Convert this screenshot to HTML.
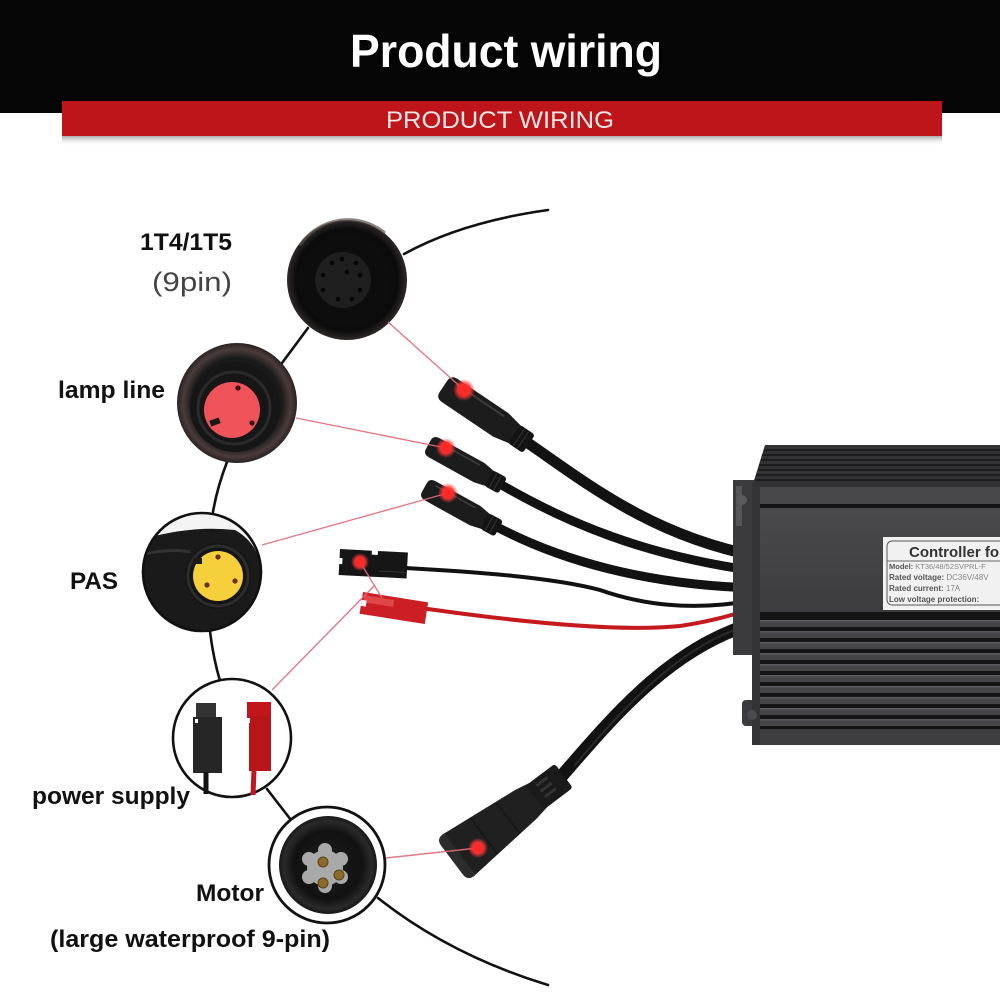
<!DOCTYPE html>
<html><head><meta charset="utf-8">
<style>html,body{margin:0;padding:0;background:#fff}svg{display:block}</style>
</head>
<body>
<svg width="1000" height="1000" viewBox="0 0 1000 1000" xmlns="http://www.w3.org/2000/svg" font-family="'Liberation Sans', Arial, sans-serif">
<defs>
  <linearGradient id="shadow" x1="0" y1="0" x2="0" y2="1">
    <stop offset="0" stop-color="#666" stop-opacity=".55"/>
    <stop offset="1" stop-color="#fff" stop-opacity="0"/>
  </linearGradient>
  <radialGradient id="dot">
    <stop offset="0" stop-color="#ff2424"/>
    <stop offset=".55" stop-color="#ff3030" stop-opacity=".95"/>
    <stop offset="1" stop-color="#ff4040" stop-opacity="0"/>
  </radialGradient>
  <radialGradient id="c1g" cx=".5" cy=".5" r=".5">
    <stop offset="0" stop-color="#151515"/>
    <stop offset=".85" stop-color="#0b0b0b"/>
    <stop offset="1" stop-color="#2e2828"/>
  </radialGradient>
  <radialGradient id="c2g" cx=".5" cy=".5" r=".5">
    <stop offset="0" stop-color="#1a1a1a"/>
    <stop offset=".75" stop-color="#1a1a1a"/>
    <stop offset=".9" stop-color="#4a3d3b"/>
    <stop offset="1" stop-color="#2a2222"/>
  </radialGradient>
  <radialGradient id="c5g" cx=".5" cy=".5" r=".5">
    <stop offset="0" stop-color="#1c1c1c"/>
    <stop offset=".7" stop-color="#121212"/>
    <stop offset=".9" stop-color="#2a2a2a"/>
    <stop offset="1" stop-color="#161616"/>
  </radialGradient>
  <linearGradient id="ctrlMid" x1="0" y1="0" x2="0" y2="1">
    <stop offset="0" stop-color="#4a4a4d"/>
    <stop offset="1" stop-color="#3c3c3f"/>
  </linearGradient>
  <clipPath id="cp3"><circle cx="202" cy="572" r="58.5"/></clipPath>
</defs>

<!-- Header -->
<rect x="0" y="0" width="1000" height="113" fill="#050505"/>
<text x="506" y="67" text-anchor="middle" font-size="46" font-weight="bold" fill="#ffffff" textLength="312" lengthAdjust="spacingAndGlyphs">Product wiring</text>
<rect x="62" y="136" width="880" height="10" fill="url(#shadow)"/>
<rect x="62" y="101" width="880" height="35" fill="#bd1519"/>
<text x="500" y="128" text-anchor="middle" font-size="24" fill="#f3e6e6" textLength="228" lengthAdjust="spacingAndGlyphs">PRODUCT WIRING</text>

<!-- Labels -->
<text x="140" y="250" font-size="24" font-weight="bold" fill="#111" textLength="92" lengthAdjust="spacingAndGlyphs">1T4/1T5</text>
<text x="152" y="291" font-size="27" fill="#444" textLength="80" lengthAdjust="spacingAndGlyphs">(9pin)</text>
<text x="58" y="398" font-size="24" font-weight="bold" fill="#111" textLength="107" lengthAdjust="spacingAndGlyphs">lamp line</text>
<text x="70" y="589" font-size="24" font-weight="bold" fill="#111" textLength="48" lengthAdjust="spacingAndGlyphs">PAS</text>
<text x="32" y="804" font-size="24" font-weight="bold" fill="#111" textLength="158" lengthAdjust="spacingAndGlyphs">power supply</text>
<text x="196" y="901" font-size="24" font-weight="bold" fill="#111" textLength="68" lengthAdjust="spacingAndGlyphs">Motor</text>
<text x="50" y="947" font-size="24" font-weight="bold" fill="#111" textLength="280" lengthAdjust="spacingAndGlyphs">(large waterproof 9-pin)</text>

<!-- Black arc connectors between circles -->
<g fill="none" stroke="#111" stroke-width="2.6" stroke-linecap="round">
  <path d="M404,254 Q462,222 548,210"/>
  <path d="M308,328 L282,363"/>
  <path d="M227,462 Q217,488 213,512"/>
  <path d="M210,631 Q213,657 220,681"/>
  <path d="M267,789 L291,820"/>
  <path d="M378,898 Q450,955 548,985"/>
</g>

<!-- Cables (under controller) -->
<g fill="none" stroke-linecap="round">
  <path d="M528,443 C585,482 650,535 756,556" stroke="#121212" stroke-width="11"/>
  <path d="M500,484 C565,522 645,556 756,571" stroke="#121212" stroke-width="9"/>
  <path d="M497,527 C560,560 645,585 756,588" stroke="#121212" stroke-width="9"/>
  <path d="M405,568 C480,572 555,578 600,590 C640,604 690,612 756,600" stroke="#111" stroke-width="4"/>
  <path d="M428,609 C520,622 620,632 680,626 C720,620 740,612 756,608" stroke="#c41a1e" stroke-width="4"/>
  <path d="M560,778 C612,718 672,645 758,622" stroke="#121212" stroke-width="13"/>
  <path d="M575,765 C620,712 675,650 740,628" stroke="#3a3a3a" stroke-width="2" opacity=".6"/>
</g>

<!-- Controller -->
<g>
  <rect x="733" y="480" width="22" height="175" fill="#3b3b3e"/>
  <rect x="736" y="486" width="6" height="40" fill="#55555a"/>
  <circle cx="742" cy="500" r="5" fill="#5a5a5e"/>
  <rect x="742" y="700" width="14" height="26" rx="4" fill="#3b3b3e"/>
  <polygon points="765,445 1000,445 1000,487 752,487" fill="#323235"/>
  <g stroke="#161616" stroke-width="1.6">
    <line x1="764" y1="450" x2="1000" y2="450"/>
    <line x1="762" y1="455" x2="1000" y2="455"/>
    <line x1="761" y1="460" x2="1000" y2="460"/>
    <line x1="759" y1="465" x2="1000" y2="465"/>
    <line x1="758" y1="470" x2="1000" y2="470"/>
    <line x1="756" y1="475" x2="1000" y2="475"/>
    <line x1="755" y1="480" x2="1000" y2="480"/>
  </g>
  <rect x="752" y="487" width="248" height="258" fill="#3d3d40"/>
  <rect x="752" y="487" width="248" height="18" fill="#48484b"/>
  <rect x="752" y="504" width="248" height="4" fill="#141414"/>
  <rect x="752" y="508" width="248" height="105" fill="url(#ctrlMid)"/>
  <rect x="752" y="612" width="248" height="6" fill="#141414"/>
  <g>
    <rect x="758" y="618" width="242" height="110" fill="#151516"/>
    <rect x="758" y="620" width="242" height="7" fill="#454548"/>
    <rect x="758" y="631" width="242" height="7" fill="#454548"/>
    <rect x="758" y="642" width="242" height="7" fill="#454548"/>
    <rect x="758" y="653" width="242" height="7" fill="#454548"/>
    <rect x="758" y="664" width="242" height="7" fill="#454548"/>
    <rect x="758" y="675" width="242" height="7" fill="#454548"/>
    <rect x="758" y="686" width="242" height="7" fill="#454548"/>
    <rect x="758" y="697" width="242" height="7" fill="#454548"/>
    <rect x="758" y="708" width="242" height="7" fill="#454548"/>
    <rect x="758" y="719" width="242" height="7" fill="#454548"/>
    <g fill="#5c5c60">
      <rect x="758" y="620" width="242" height="1.5"/>
      <rect x="758" y="631" width="242" height="1.5"/>
      <rect x="758" y="642" width="242" height="1.5"/>
      <rect x="758" y="653" width="242" height="1.5"/>
      <rect x="758" y="664" width="242" height="1.5"/>
      <rect x="758" y="675" width="242" height="1.5"/>
      <rect x="758" y="686" width="242" height="1.5"/>
      <rect x="758" y="697" width="242" height="1.5"/>
      <rect x="758" y="708" width="242" height="1.5"/>
      <rect x="758" y="719" width="242" height="1.5"/>
    </g>
  </g>
  <rect x="752" y="726" width="248" height="3" fill="#141414"/>
  <rect x="752" y="729" width="248" height="14" fill="#3e3e41"/>
  <rect x="752" y="487" width="8" height="258" fill="#343437"/>
  <circle cx="752" cy="715" r="5" fill="#4a4a4d"/>
  <rect x="883" y="537" width="117" height="73" fill="#f1f1f1"/>
  <rect x="887" y="541" width="125" height="64" rx="5" fill="none" stroke="#555" stroke-width="1"/>
  <line x1="887" y1="561" x2="1000" y2="561" stroke="#666" stroke-width="1"/>
  <text x="909" y="557" font-size="15" font-weight="bold" fill="#333">Controller for</text>
  <text x="889" y="569" font-size="7.5" font-weight="bold" fill="#555">Model: <tspan fill="#888" font-weight="normal">KT36/48/52SVPRL-F</tspan></text>
  <text x="889" y="580" font-size="8" font-weight="bold" fill="#555">Rated voltage:  <tspan fill="#888" font-weight="normal">DC36V/48V</tspan></text>
  <text x="889" y="591" font-size="8" font-weight="bold" fill="#555">Rated current:    <tspan fill="#888" font-weight="normal">17A</tspan></text>
  <text x="889" y="602" font-size="8" font-weight="bold" fill="#555">Low voltage protection:</text>
</g>

<!-- Connector 1 -->
<g transform="translate(446,388) rotate(34)">
  <path d="M5,-14 L66,-14 L86,-10 L86,10 L66,14 L5,14 Q-3,14 -3,7 L-3,-7 Q-3,-14 5,-14 Z" fill="#1c1c1c"/>
  <line x1="6" y1="-9" x2="64" y2="-9" stroke="#3c3c3c" stroke-width="2"/>
  <rect x="82" y="-11" width="18" height="22" rx="3" fill="#141414"/>
  <line x1="88" y1="-10" x2="88" y2="10" stroke="#333" stroke-width="1"/>
  <line x1="93" y1="-10" x2="93" y2="10" stroke="#333" stroke-width="1"/>
</g>
<!-- Connector 2 -->
<g transform="translate(431,446) rotate(29)">
  <path d="M4,-11 L55,-11 L70,-8 L70,8 L55,11 L4,11 Q-3,11 -3,5 L-3,-5 Q-3,-11 4,-11 Z" fill="#1c1c1c"/>
  <line x1="6" y1="-7" x2="52" y2="-7" stroke="#3c3c3c" stroke-width="1.5"/>
  <rect x="66" y="-9" width="16" height="18" rx="3" fill="#141414"/>
  <line x1="71" y1="-8" x2="71" y2="8" stroke="#333" stroke-width="1"/>
  <line x1="76" y1="-8" x2="76" y2="8" stroke="#333" stroke-width="1"/>
</g>
<!-- Connector 3 -->
<g transform="translate(427,489) rotate(29)">
  <path d="M4,-11 L55,-11 L70,-8 L70,8 L55,11 L4,11 Q-3,11 -3,5 L-3,-5 Q-3,-11 4,-11 Z" fill="#1c1c1c"/>
  <line x1="6" y1="-7" x2="52" y2="-7" stroke="#3c3c3c" stroke-width="1.5"/>
  <rect x="66" y="-9" width="16" height="18" rx="3" fill="#141414"/>
  <line x1="71" y1="-8" x2="71" y2="8" stroke="#333" stroke-width="1"/>
  <line x1="76" y1="-8" x2="76" y2="8" stroke="#333" stroke-width="1"/>
</g>
<!-- Power black connector -->
<g transform="translate(340,549) rotate(3)">
  <rect x="0" y="0" width="68" height="26" fill="#161616"/>
  <rect x="32" y="-1" width="6" height="5" fill="#fff"/>
  <rect x="0" y="9" width="3" height="6" fill="#fff"/>
  <line x1="40" y1="20" x2="66" y2="20" stroke="#333" stroke-width="1"/>
</g>
<!-- Power red connector -->
<g transform="translate(363,592) rotate(9)">
  <rect x="0" y="0" width="66" height="22" fill="#cc1f25"/>
  <rect x="2" y="3" width="30" height="7" fill="#e0464a"/>
  <rect x="0" y="8" width="5" height="6" fill="#fff"/>
</g>
<!-- Motor connector -->
<g transform="translate(452,860) rotate(-37)">
  <path d="M0,-18 Q0,-26 8,-26 L92,-18 L108,-15 L108,15 L92,18 L8,26 Q0,26 0,18 Z" fill="#202020"/>
  <path d="M0,-18 Q0,-26 8,-26 L10,-26 L10,26 L8,26 Q0,26 0,18 Z" fill="#2c2c2c"/>
  <line x1="40" y1="-22" x2="40" y2="22" stroke="#161616" stroke-width="1.5"/>
  <line x1="70" y1="-19" x2="70" y2="19" stroke="#161616" stroke-width="1.5"/>
  <rect x="104" y="-15" width="36" height="30" rx="3" fill="#1a1a1a"/>
  <rect x="112" y="-10" width="14" height="3" fill="#333"/>
  <rect x="112" y="-3" width="14" height="3" fill="#333"/>
  <rect x="112" y="4" width="14" height="3" fill="#333"/>
</g>

<!-- Circle 1 : 1T4/1T5 -->
<g>
  <circle cx="347" cy="280" r="60" fill="url(#c1g)"/>
  <path d="M300,245 A58,58 0 0 1 385,233" fill="none" stroke="#5e5250" stroke-width="3" opacity=".7"/>
  <circle cx="345" cy="281" r="46" fill="#0d0d0d"/>
  <circle cx="343" cy="280" r="28" fill="#1f1f1f"/>
  <g fill="#050505">
    <circle cx="332" cy="263" r="2.3"/><circle cx="342" cy="259" r="2.3"/>
    <circle cx="356" cy="263" r="2.3"/><circle cx="347" cy="272" r="2.3"/>
    <circle cx="323" cy="275" r="2.3"/><circle cx="360" cy="275" r="2.3"/>
    <circle cx="323" cy="290" r="2.3"/><circle cx="360" cy="290" r="2.3"/>
    <circle cx="338" cy="299" r="2.3"/><circle cx="352" cy="299" r="2.3"/>
  </g>
</g>

<!-- Circle 2 : lamp line -->
<g>
  <circle cx="237" cy="403" r="60" fill="url(#c2g)"/>
  <circle cx="235" cy="407" r="45" fill="#161616"/>
  <circle cx="234" cy="408" r="36" fill="none" stroke="#2a2a2a" stroke-width="3"/>
  <circle cx="232" cy="410" r="28" fill="#f0525a"/>
  <circle cx="238" cy="388" r="2.6" fill="#3a1010"/>
  <circle cx="252" cy="423" r="2.6" fill="#3a1010"/>
  <rect x="210" y="419" width="10" height="6" fill="#1a1a1a" transform="rotate(-20 215 422)"/>
</g>

<!-- Circle 3 : PAS -->
<g>
  <circle cx="202" cy="572" r="60" fill="#fff"/>
  <g clip-path="url(#cp3)">
    <rect x="140" y="510" width="130" height="130" fill="#f4f4f4"/>
    <path d="M140,540 Q190,525 235,530 Q262,545 262,580 Q260,620 225,628 L140,635 Z" fill="#1a1a1a"/>
    <path d="M140,555 Q170,548 190,552" stroke="#333" stroke-width="3" fill="none"/>
    <circle cx="218" cy="576" r="33" fill="#151515"/>
    <circle cx="218" cy="576" r="30" fill="none" stroke="#2c2c2c" stroke-width="3"/>
  </g>
  <circle cx="202" cy="572" r="59" fill="none" stroke="#111" stroke-width="2.6"/>
  <circle cx="218" cy="576" r="25" fill="#f6d03c"/>
  <circle cx="218" cy="557" r="2.6" fill="#6b3010"/>
  <circle cx="207" cy="585" r="2.6" fill="#6b3010"/>
  <circle cx="235" cy="581" r="2.6" fill="#6b3010"/>
  <rect x="193" y="558" width="9" height="6" fill="#1a1a1a"/>
</g>

<!-- Circle 4 : power supply -->
<g>
  <circle cx="232" cy="738" r="59" fill="#fff" stroke="#111" stroke-width="2.6"/>
  <rect x="196" y="703" width="20" height="16" fill="#333"/>
  <rect x="193" y="717" width="29" height="56" fill="#262626"/>
  <rect x="195" y="719" width="3" height="4" fill="#fff"/>
  <line x1="206" y1="772" x2="206" y2="794" stroke="#111" stroke-width="5"/>
  <rect x="247" y="702" width="24" height="16" fill="#c2161c"/>
  <rect x="249" y="716" width="22" height="55" fill="#b8151a"/>
  <rect x="247" y="718" width="3" height="5" fill="#fff"/>
  <line x1="254" y1="770" x2="253" y2="795" stroke="#c2161c" stroke-width="5"/>
</g>

<!-- Circle 5 : Motor -->
<g>
  <circle cx="327" cy="865" r="58" fill="#fff" stroke="#111" stroke-width="2.8"/>
  <circle cx="328" cy="865" r="49" fill="url(#c5g)"/>
  <g fill="#a9a9a9">
    <circle cx="325" cy="868" r="18"/>
    <circle cx="325" cy="850" r="7"/><circle cx="341" cy="859" r="7"/>
    <circle cx="341" cy="877" r="7"/><circle cx="325" cy="886" r="7"/>
    <circle cx="309" cy="877" r="7"/><circle cx="309" cy="859" r="7"/>
  </g>
  <g fill="#8b6a2c" stroke="#5a4218" stroke-width="1">
    <circle cx="323" cy="862" r="5"/>
    <circle cx="339" cy="875" r="5"/>
    <circle cx="323" cy="883" r="5"/>
  </g>
</g>

<!-- Laser lines -->
<g stroke="#e06b78" stroke-width="1.4" fill="none" opacity=".9">
  <line x1="388" y1="322" x2="464" y2="390"/>
  <line x1="296" y1="418" x2="446" y2="448"/>
  <line x1="262" y1="545" x2="448" y2="493"/>
  <line x1="272" y1="690" x2="375" y2="585"/>
  <line x1="360" y1="562" x2="382" y2="598"/>
  <line x1="386" y1="858" x2="478" y2="848"/>
</g>

<!-- Red dots -->
<g fill="url(#dot)">
  <circle cx="464" cy="390" r="11"/>
  <circle cx="446" cy="448" r="10"/>
  <circle cx="448" cy="493" r="10"/>
  <circle cx="360" cy="562" r="9"/>
  <circle cx="478" cy="848" r="10"/>
</g>
</svg>
</body>
</html>
